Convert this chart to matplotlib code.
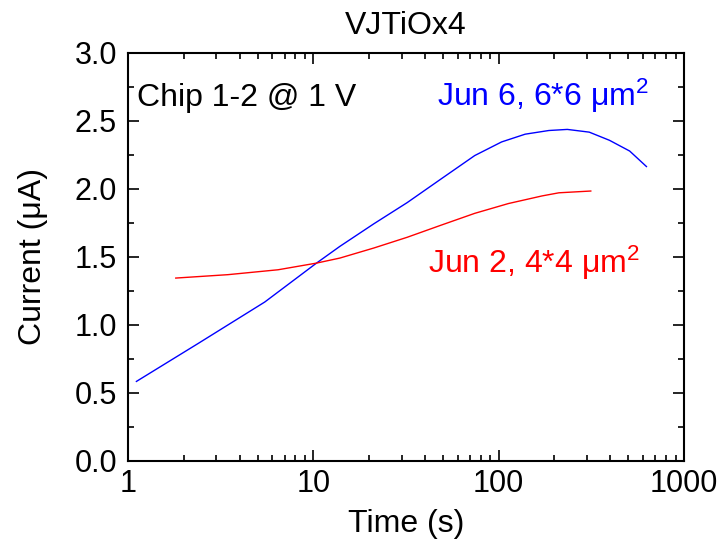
import matplotlib
matplotlib.use("Agg")
import matplotlib.pyplot as plt
from matplotlib.ticker import (LogLocator, MultipleLocator, FixedLocator,
                               FixedFormatter, FormatStrFormatter)

plt.rcParams['font.family'] = ['Liberation Sans', 'DejaVu Sans']
plt.rcParams['mathtext.fontset'] = 'custom'
plt.rcParams['mathtext.rm'] = 'Liberation Sans'
plt.rcParams['mathtext.it'] = 'Liberation Sans'

# Jun 6 device, 6*6 um^2
t_jun6 = [1.11, 2.39, 5.47, 10.4, 13.9, 21.2, 32.1, 48.9, 74.3, 103.7, 139,
          186.5, 234.6, 308, 396, 509, 627]
i_jun6 = [0.585, 0.864, 1.169, 1.455, 1.578, 1.744, 1.90, 2.074, 2.246, 2.346,
          2.403, 2.430, 2.438, 2.418, 2.358, 2.279, 2.165]

# Jun 2 device, 4*4 um^2
t_jun2 = [1.81, 3.46, 6.45, 10.4, 13.9, 21.2, 32.1, 48.9, 74.3, 112.9, 171.4,
          211.4, 314]
i_jun2 = [1.345, 1.37, 1.406, 1.455, 1.492, 1.566, 1.645, 1.734, 1.821, 1.893,
          1.949, 1.972, 1.985]

x_ticks = [1, 10, 100, 1000]
x_tick_labels = ['1', '10', '100', '1000']
y_ticks = [0.0, 0.5, 1.0, 1.5, 2.0, 2.5, 3.0]

fig = plt.figure(figsize=(7.22, 5.44), dpi=100)
ax = fig.add_axes([0.1773, 0.1526, 0.7701, 0.7500])

ax.plot(t_jun6, i_jun6, color='#0000ff', lw=1.0)
ax.plot(t_jun2, i_jun2, color='#ff0000', lw=1.0)

ax.set_xscale('log')
ax.set_xlim(1, 1000)
ax.set_ylim(0, 3.0)
ax.xaxis.set_major_locator(FixedLocator(x_ticks))
ax.xaxis.set_major_formatter(FixedFormatter(x_tick_labels))
ax.xaxis.set_minor_locator(LogLocator(base=10, subs=range(2, 10)))
ax.yaxis.set_major_locator(FixedLocator(y_ticks))
ax.yaxis.set_major_formatter(FormatStrFormatter('%.1f'))
ax.yaxis.set_minor_locator(MultipleLocator(0.25))

ax.tick_params(which='both', direction='in', top=True, right=True,
               labelsize=22, width=1.2)
ax.tick_params(which='major', length=8)
ax.tick_params(which='minor', length=4)
ax.tick_params(axis='x', which='major', pad=6)
ax.tick_params(axis='y', which='major', pad=8)
for s in ax.spines.values():
    s.set_linewidth(1.5)

ax.set_xlabel('Time (s)', fontsize=23, labelpad=7)
ax.set_ylabel('Current (\u03bcA)', fontsize=23, labelpad=19)
ax.set_title('VJTiOx4', fontsize=23, pad=14)

ax.text(0.016, 0.870, 'Chip 1-2 @ 1 V', transform=ax.transAxes, fontsize=23,
        color='black', va='baseline', ha='left')
ax.text(0.556, 0.870, 'Jun 6, 6*6 \u03bcm$^2$', transform=ax.transAxes,
        fontsize=23, color='#0000ff', va='baseline', ha='left')
ax.text(0.540, 0.461, 'Jun 2, 4*4 \u03bcm$^2$', transform=ax.transAxes,
        fontsize=23, color='#ff0000', va='baseline', ha='left')

fig.savefig('out.png', dpi=100)
